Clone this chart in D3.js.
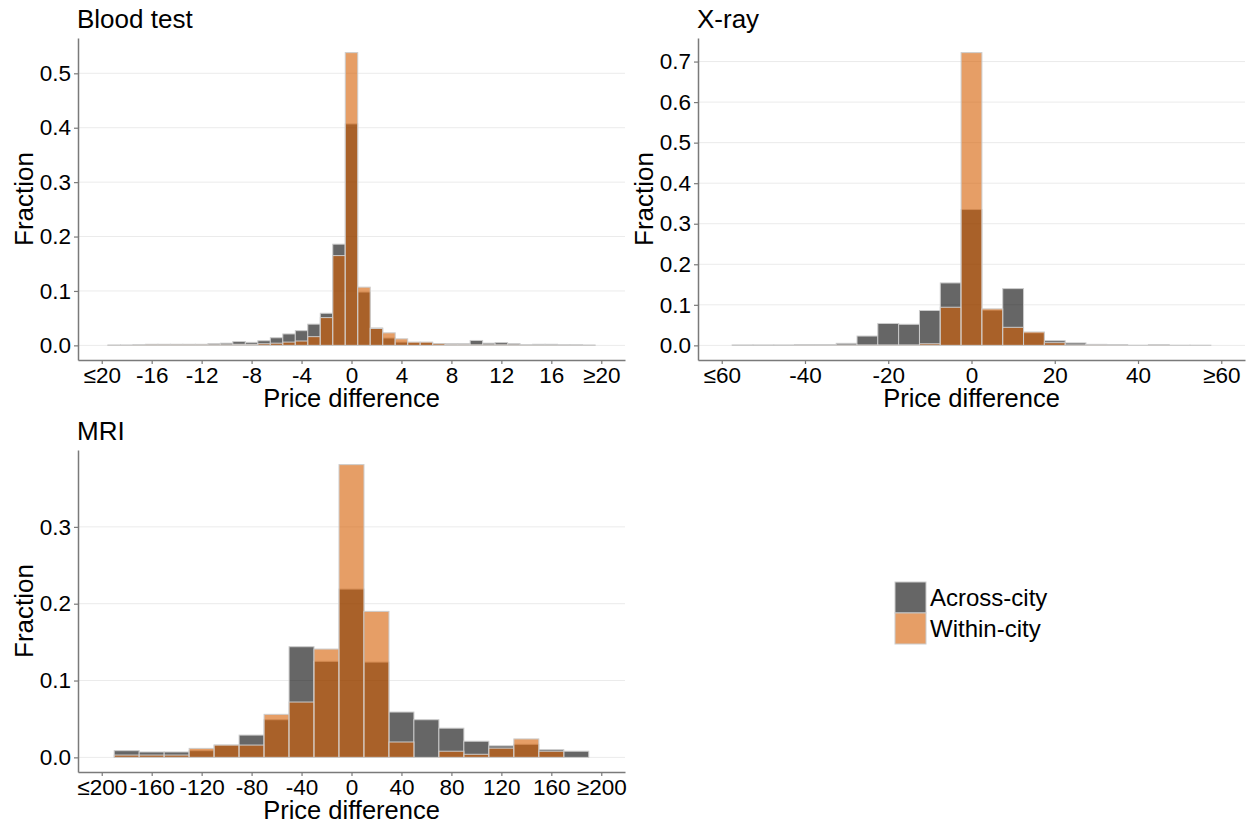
<!DOCTYPE html>
<html>
<head>
<meta charset="utf-8">
<script src="https://cdn.jsdelivr.net/npm/d3@7/dist/d3.min.js"></script>
<style>
  body { margin: 0; background: #fff; }
  text { font-family: "Liberation Sans", Arial, Helvetica, sans-serif; }
</style>
</head>
<body>
<svg></svg>
<script>
// bin centres and fractions
let bloodBins = d3.range(-19, 20);
let bloodAcross = [
  0.0005, 0.0005, 0.001, 0.002, 0.002, 0.002, 0.002, 0.002, 0.003, 0.004,
  0.007, 0.0055, 0.0085, 0.014, 0.021, 0.027, 0.039, 0.059, 0.186, 0.407,
  0.098, 0.032, 0.0135, 0.006, 0.005, 0.005, 0.003, 0.003, 0.003, 0.009,
  0.004, 0.005, 0.003, 0.001, 0.002, 0.002, 0.001, 0.001, 0.0005
];
let bloodWithin = [
  0.0003, 0.0003, 0.0005, 0.001, 0.001, 0.001, 0.001, 0.001, 0.001, 0.001,
  0.002, 0.002, 0.003, 0.004, 0.006, 0.008, 0.016, 0.051, 0.165, 0.538,
  0.107, 0.031, 0.023, 0.012, 0.006, 0.006, 0.003, 0.002, 0.002, 0.001,
  0.001, 0.001, 0.001, 0.0005, 0.0005, 0.0005, 0.0003, 0.0003, 0.0002
];
let bloodXTicks = [-20, -16, -12, -8, -4, 0, 4, 8, 12, 16, 20];
let bloodXLabels = ["≤20", "-16", "-12", "-8", "-4", "0", "4", "8", "12", "16", "≥20"];
let bloodYTicks = [0, 0.1, 0.2, 0.3, 0.4, 0.5];

let xrayBins = d3.range(-55, 60, 5);
let xrayAcross = [
  0.001, 0.001, 0.001, 0.002, 0.002, 0.005, 0.023, 0.054, 0.052, 0.086,
  0.154, 0.335, 0.087, 0.140, 0.031, 0.0115, 0.006, 0.0025, 0.002, 0.0005,
  0.0015, 0.0005, 0.0005
];
let xrayWithin = [
  0, 0, 0, 0.0005, 0.0005, 0.001, 0.001, 0.001, 0.001, 0.004,
  0.094, 0.722, 0.090, 0.0445, 0.033, 0.0066, 0.001, 0.001, 0.0005, 0,
  0.0005, 0, 0
];
let xrayXTicks = [-60, -40, -20, 0, 20, 40, 60];
let xrayXLabels = ["≤60", "-40", "-20", "0", "20", "40", "≥60"];
let xrayYTicks = [0, 0.1, 0.2, 0.3, 0.4, 0.5, 0.6, 0.7];

let mriBins = d3.range(-180, 200, 20);
let mriAcross = [
  0.0087, 0.007, 0.007, 0.0087, 0.016, 0.029, 0.049, 0.144, 0.125, 0.219,
  0.124, 0.059, 0.049, 0.038, 0.021, 0.015, 0.017, 0.010, 0.008
];
let mriWithin = [
  0.003, 0.003, 0.003, 0.0117, 0.016, 0.016, 0.056, 0.072, 0.141, 0.381,
  0.190, 0.020, 0, 0.008, 0.004, 0.012, 0.024, 0.008, 0
];
let mriXTicks = [-200, -160, -120, -80, -40, 0, 40, 80, 120, 160, 200];
let mriXLabels = ["≤200", "-160", "-120", "-80", "-40", "0", "40", "80", "120", "160", "≥200"];
let mriYTicks = [0, 0.1, 0.2, 0.3];

let legendLabels = ["Across-city", "Within-city"];

let width = 1252;
let height = 825;
let acrossColor = "#000000";
let withinColor = "#D55E00";
let axisColor = "#7a7a7a";

let svg = d3.select("svg");

const drawCanvas = () => {
  svg.attr("width", width).attr("height", height);
};

const styleAxis = (g) => {
  g.select(".domain").attr("stroke", axisColor).attr("stroke-width", 1.5);
  g.selectAll(".tick line").attr("stroke", axisColor).attr("stroke-width", 1.2);
  g.selectAll(".tick text")
    .attr("fill", "#000")
    .attr("font-size", 22.5)
    .attr("font-family", '"Liberation Sans", Arial, sans-serif');
};

const drawPanel = (p) => {
  let binWidth = p.bins[1] - p.bins[0];

  let xScale = d3
    .scaleLinear()
    .domain([-p.xLimit, p.xLimit])
    .range([p.left, p.right]);

  let yMax = d3.max(p.across.concat(p.within));
  let yScale = d3
    .scaleLinear()
    .domain([-0.05 * yMax, 1.05 * yMax])
    .range([p.bottom, p.top]);

  // horizontal grid
  svg
    .append("g")
    .selectAll("line")
    .data(p.yTicks)
    .enter()
    .append("line")
    .attr("x1", p.left)
    .attr("x2", p.right)
    .attr("y1", (d) => yScale(d))
    .attr("y2", (d) => yScale(d))
    .attr("stroke", "#ebebeb")
    .attr("stroke-width", 1);

  const drawBars = (values, color) => {
    let items = p.bins
      .map((b, i) => ({ bin: b, value: values[i] }))
      .filter((d) => d.value > 0);

    svg
      .append("g")
      .selectAll("rect")
      .data(items)
      .enter()
      .append("rect")
      .attr("x", (d) => xScale(d.bin - binWidth / 2))
      .attr("width", (d) => xScale(d.bin + binWidth / 2) - xScale(d.bin - binWidth / 2))
      .attr("y", (d) => yScale(d.value))
      .attr("height", (d) => yScale(0) - yScale(d.value))
      .attr("fill", color)
      .attr("fill-opacity", 0.6)
      .attr("stroke", "#cccccc")
      .attr("stroke-width", 1);
  };

  drawBars(p.across, acrossColor);
  drawBars(p.within, withinColor);

  let xAxis = d3
    .axisBottom(xScale)
    .tickValues(p.xTicks)
    .tickFormat((d, i) => p.xLabels[i])
    .tickSize(4)
    .tickSizeOuter(0)
    .tickPadding(3);

  let yAxis = d3
    .axisLeft(yScale)
    .tickValues(p.yTicks)
    .tickFormat(d3.format(".1f"))
    .tickSize(4)
    .tickSizeOuter(0)
    .tickPadding(3);

  svg
    .append("g")
    .attr("transform", `translate(0, ${p.bottom})`)
    .call(xAxis)
    .call(styleAxis);

  svg
    .append("g")
    .attr("transform", `translate(${p.left}, 0)`)
    .call(yAxis)
    .call(styleAxis);

  svg
    .append("text")
    .attr("x", p.left - 1)
    .attr("y", p.top - 10)
    .attr("font-size", 26)
    .text(p.title);

  svg
    .append("text")
    .attr("x", (p.left + p.right) / 2)
    .attr("y", p.bottom + 47)
    .attr("text-anchor", "middle")
    .attr("font-size", 25.5)
    .text("Price difference");

  svg
    .append("text")
    .attr("transform", `translate(${p.left - 45}, ${(p.top + p.bottom) / 2}) rotate(-90)`)
    .attr("text-anchor", "middle")
    .attr("font-size", 26)
    .text("Fraction");
};

const drawLegend = () => {
  let colors = [acrossColor, withinColor];
  let legend = svg.append("g").attr("transform", "translate(895, 582)");

  legend
    .selectAll("rect")
    .data(legendLabels)
    .enter()
    .append("rect")
    .attr("x", 0)
    .attr("y", (d, i) => i * 31)
    .attr("width", 31)
    .attr("height", 31)
    .attr("fill", (d, i) => colors[i])
    .attr("fill-opacity", 0.6)
    .attr("stroke", "#cccccc")
    .attr("stroke-width", 1);

  legend
    .selectAll("text")
    .data(legendLabels)
    .enter()
    .append("text")
    .attr("x", 35)
    .attr("y", (d, i) => 24 + i * 31)
    .attr("font-size", 24)
    .text((d) => d);
};

drawCanvas();
drawPanel({
  title: "Blood test", bins: bloodBins, across: bloodAcross, within: bloodWithin,
  xTicks: bloodXTicks, xLabels: bloodXLabels, yTicks: bloodYTicks, xLimit: 21.9,
  left: 78, right: 625, top: 38, bottom: 360
});
drawPanel({
  title: "X-ray", bins: xrayBins, across: xrayAcross, within: xrayWithin,
  xTicks: xrayXTicks, xLabels: xrayXLabels, yTicks: xrayYTicks, xLimit: 65.7,
  left: 698, right: 1245, top: 38, bottom: 360
});
drawPanel({
  title: "MRI", bins: mriBins, across: mriAcross, within: mriWithin,
  xTicks: mriXTicks, xLabels: mriXLabels, yTicks: mriYTicks, xLimit: 219,
  left: 78, right: 625, top: 450, bottom: 772
});
drawLegend();
</script>
</body>
</html>
